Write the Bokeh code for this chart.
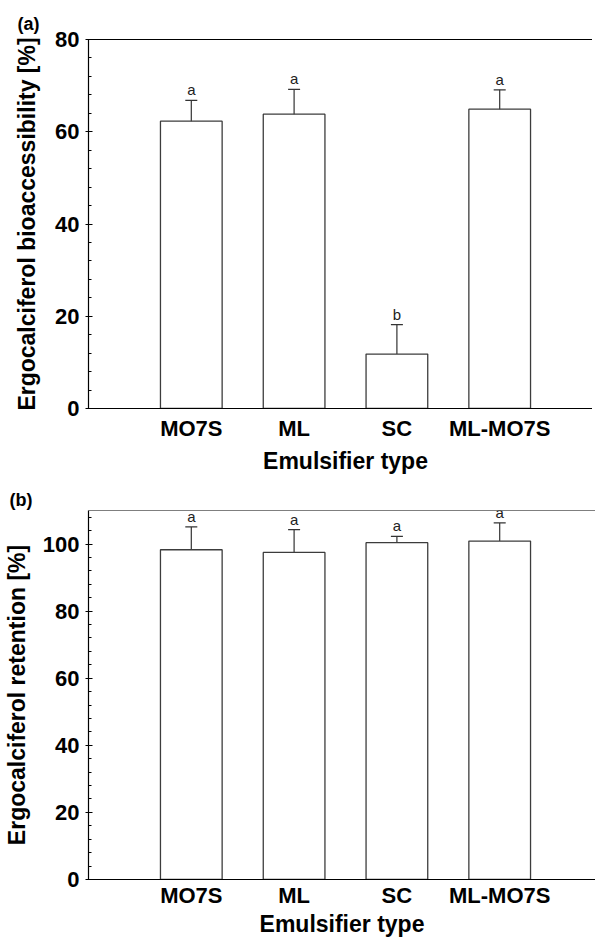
from bokeh.plotting import figure
from bokeh.layouts import column
from bokeh.models import (ColumnDataSource, Range1d, FixedTicker, SingleIntervalTicker,
                          Whisker, TeeHead, Span, LabelSet)
from bokeh.core.properties import value
from bokeh.embed import file_html
from bokeh.resources import INLINE

# ---------------- data ----------------
categories = ["MO7S", "ML", "SC", "ML-MO7S"]
bioacc_mean = [62.3, 63.8, 11.8, 64.9]
bioacc_sd = [4.5, 5.4, 6.4, 4.2]
bioacc_letters = ["a", "a", "b", "a"]
retention_mean = [98.3, 97.5, 100.4, 100.9]
retention_sd = [6.8, 6.8, 1.9, 5.4]
retention_letters = ["a", "a", "a", "a"]

FONT = "Liberation Sans"
BAR_COLOR = "#3c3c3c"


def make_panel(label, means, sds, letters, y_top, ytitle,
               frame_w, frame_h, border_left, border_top, border_right, border_bottom,
               x_end, full_outline, lab_standoff, title_standoff, ytitle_standoff,
               label_standoff):
    xs = list(range(1, len(categories) + 1))
    src = ColumnDataSource(dict(
        x=xs,
        top=means,
        upper=[m + s for m, s in zip(means, sds)],
        lower=[m - s for m, s in zip(means, sds)],
        letter=letters,
    ))
    p = figure(frame_width=frame_w, frame_height=frame_h, output_backend="svg",
               toolbar_location=None, tools="",
               x_range=Range1d(0, x_end), y_range=Range1d(0, y_top),
               min_border_left=border_left, min_border_top=border_top,
               min_border_right=border_right, min_border_bottom=border_bottom)
    p.background_fill_color = "white"
    p.border_fill_color = "white"
    p.xgrid.visible = False
    p.ygrid.visible = False
    if full_outline:
        p.outline_line_color = "black"
        p.outline_line_width = 1
    else:
        p.outline_line_color = None
        p.add_layout(Span(location=y_top, dimension="width",
                          line_color="black", line_width=1))

    p.vbar(x="x", top="top", bottom=0, width=0.6, source=src,
           fill_color="white", line_color=BAR_COLOR, line_width=1.3)
    w = Whisker(base="x", upper="upper", lower="lower", source=src,
                line_color="#333333", line_width=1.2,
                upper_head=TeeHead(size=12, line_color="#333333", line_width=1.2),
                lower_head=TeeHead(size=12, line_color="#333333", line_width=1.2))
    p.add_layout(w)
    p.add_layout(LabelSet(x="x", y="upper", text="letter", source=src,
                          text_font=value(FONT), text_font_size=value("15px"),
                          text_align="center", text_baseline="alphabetic",
                          y_offset=5, text_color=value("#222222")))

    # x axis
    p.xaxis.ticker = FixedTicker(ticks=xs)
    p.xaxis.major_label_overrides = {x: c for x, c in zip(xs, categories)}
    p.xaxis.major_tick_in = 0
    p.xaxis.major_tick_out = 0
    p.xaxis.axis_label = "Emulsifier type"
    # y axis
    p.yaxis.ticker = SingleIntervalTicker(interval=20, num_minor_ticks=5)
    p.yaxis.major_tick_in = 4
    p.yaxis.major_tick_out = 3
    p.yaxis.minor_tick_in = 3
    p.yaxis.minor_tick_out = 0
    p.yaxis.axis_label = ytitle
    for ax in (p.xaxis, p.yaxis):
        ax.axis_line_color = "black"
        ax.axis_line_width = 1.2
        ax.major_tick_line_color = "black"
        ax.major_label_text_font = FONT
        ax.major_label_text_font_style = "bold"
        ax.major_label_text_font_size = "22px"
        ax.major_label_text_color = "black"
        ax.axis_label_text_font = FONT
        ax.axis_label_text_font_style = "bold"
        ax.axis_label_text_font_size = "23px"
        ax.axis_label_text_color = "black"
    p.xaxis.minor_tick_line_color = None
    p.yaxis.minor_tick_line_color = "black"
    p.xaxis.major_label_standoff = lab_standoff
    p.xaxis.axis_label_standoff = title_standoff
    p.yaxis.major_label_standoff = 6
    p.yaxis.axis_label_standoff = ytitle_standoff

    p.title.text = label
    p.title.text_font = FONT
    p.title.text_font_style = "bold"
    p.title.text_font_size = "18px"
    p.title.text_color = "black"
    p.title.align = "left"
    p.title.offset = -(border_left - 4)
    p.title.standoff = label_standoff
    return p


pa = make_panel("(a)", bioacc_mean, bioacc_sd, bioacc_letters, 80,
                "Ergocalciferol bioaccessibility [%]",
                frame_w=514, frame_h=369, border_left=75, border_top=39,
                border_right=1, border_bottom=62, x_end=5, full_outline=True,
                lab_standoff=7, title_standoff=4, ytitle_standoff=12,
                label_standoff=11)
pb = make_panel("(b)", retention_mean, retention_sd, retention_letters, 110,
                "Ergocalciferol retention [%]",
                frame_w=507, frame_h=369, border_left=83, border_top=34,
                border_right=0, border_bottom=54, x_end=507 / 102.8,
                full_outline=False, lab_standoff=3, title_standoff=0,
                ytitle_standoff=10, label_standoff=2)

layout = column(pa, pb)
open("out.html", "w").write(file_html(layout, INLINE))
